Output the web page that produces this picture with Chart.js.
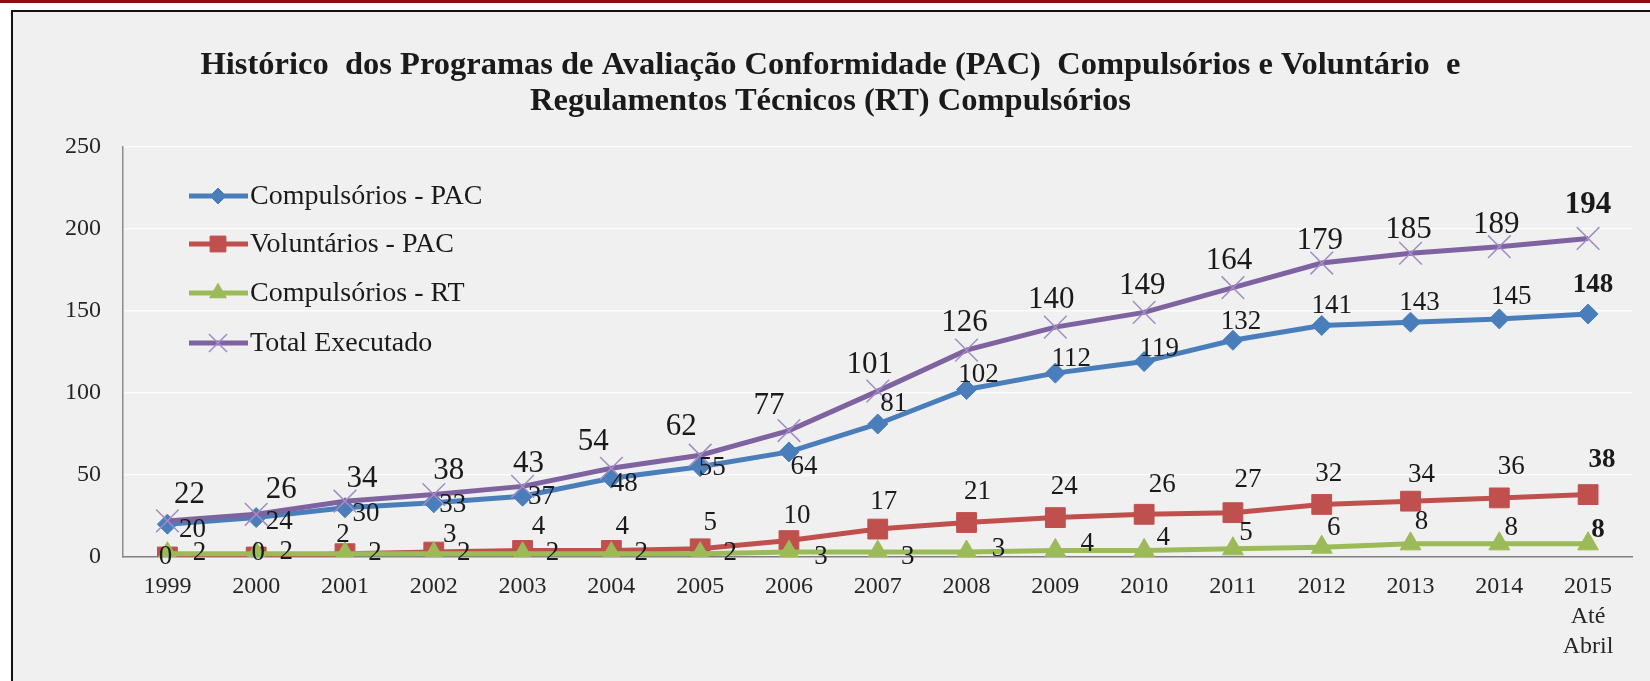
<!DOCTYPE html>
<html>
<head>
<meta charset="utf-8">
<script src="https://cdn.jsdelivr.net/npm/chart.js@4/dist/chart.umd.min.js"></script>
<style>
  body { margin: 0; background: #ffffff; }
  canvas { display: block; }
</style>
</head>
<body>
<canvas id="myChart" width="1650" height="681"></canvas>
<script>
// data
var years = ['1999', '2000', '2001', '2002', '2003', '2004', '2005', '2006', '2007', '2008',
  '2009', '2010', '2011', '2012', '2013', '2014', ['2015', 'Até', 'Abril']];
var compPAC = [20, 24, 30, 33, 37, 48, 55, 64, 81, 102, 112, 119, 132, 141, 143, 145, 148];
var volPAC = [0, 0, 2, 3, 4, 4, 5, 10, 17, 21, 24, 26, 27, 32, 34, 36, 38];
var compRT = [2, 2, 2, 2, 2, 2, 2, 3, 3, 3, 4, 4, 5, 6, 8, 8, 8];
var total = [22, 26, 34, 38, 43, 54, 62, 77, 101, 126, 140, 149, 164, 179, 185, 189, 194];
var yTicks = [0, 50, 100, 150, 200, 250];

var titleLines = ['Histórico  dos Programas de Avaliação Conformidade (PAC)  Compulsórios e Voluntário  e',
  'Regulamentos Técnicos (RT) Compulsórios'];

var serif = "'Liberation Serif', 'Times New Roman', serif";

// where each value label sits relative to its point (pixels)
var labelOffsets = {
  total: [[22,-26],[25,-24],[17,-22],[15,-24],[6,-23],[-18,-26],[-19,-28],[-20,-25],[-8,-26],
    [-2,-27],[-4,-27],[-2,-26],[-4,-27],[-2,-22],[-2,-23],[-3,-22],[0,-33]],
  compPAC: [[25,6],[23,4],[21,6],[19,2],[19,1],[13,6],[12,1],[15,15],[16,-20],[12,-15],
    [16,-14],[15,-13],[8,-18],[10,-20],[9,-19],[12,-22],[5,-29]],
  volPAC: [[-2,0],[2,-4],[-2,-19],[16,-17],[16,-24],[11,-24],[10,-26],[8,-25],[6,-27],[11,-31],
    [9,-31],[18,-29],[15,-33],[7,-31],[11,-26],[12,-31],[14,-35]],
  compRT: [[32,-1],[30,-2],[30,-1],[30,-1],[30,-1],[30,-1],[30,-1],[32,5],[30,5],[32,-3],
    [32,-7],[19,-13],[13,-16],[12,-19],[11,-22],[12,-16],[10,-14]]
};

var frame = {
  id: 'frame',
  beforeDraw: function(chart) {
    var ctx = chart.ctx;
    ctx.save();
    ctx.fillStyle = '#ffffff';
    ctx.fillRect(0, 0, chart.width, chart.height);
    ctx.fillStyle = '#f0f0f0';
    ctx.fillRect(12, 10, chart.width - 12, chart.height - 10);
    ctx.fillStyle = '#8a0f12';
    ctx.fillRect(0, 0, chart.width, 3);
    ctx.strokeStyle = '#111111';
    ctx.lineWidth = 2;
    ctx.beginPath();
    ctx.moveTo(12, chart.height);
    ctx.lineTo(12, 11);
    ctx.lineTo(chart.width, 11);
    ctx.stroke();
    ctx.restore();
  }
};

var valueLabels = {
  id: 'valueLabels',
  afterDatasetsDraw: function(chart) {
    var ctx = chart.ctx;
    ctx.save();
    ctx.textAlign = 'center';
    ctx.textBaseline = 'middle';
    ctx.fillStyle = '#1a1a1a';
    chart.data.datasets.forEach(function(ds, di) {
      var meta = chart.getDatasetMeta(di);
      var offs = labelOffsets[ds.key];
      meta.data.forEach(function(pt, i) {
        var last = i == ds.data.length - 1;
        var size = ds.key == 'total' ? 31 : 27;
        ctx.font = (last ? 'bold ' : '') + size + 'px ' + serif;
        ctx.fillText(ds.data[i], pt.x + offs[i][0], pt.y + offs[i][1]);
      });
    });
    ctx.restore();
  }
};

var lineLegend = {
  id: 'lineLegend',
  afterDraw: function(chart) {
    var ctx = chart.ctx;
    var rows = [196, 244, 293, 343];
    ctx.save();
    chart.data.datasets.forEach(function(ds, di) {
      var y = rows[di];
      ctx.strokeStyle = ds.borderColor;
      ctx.lineWidth = ds.borderWidth;
      ctx.beginPath();
      ctx.moveTo(189, y);
      ctx.lineTo(248, y);
      ctx.stroke();
      ctx.fillStyle = ds.pointBackgroundColor;
      ctx.strokeStyle = ds.pointBorderColor;
      ctx.lineWidth = ds.pointBorderWidth;
      Chart.helpers.drawPoint(ctx, {
        pointStyle: ds.pointStyle, radius: ds.pointRadius * 0.8, rotation: 0,
        borderWidth: ds.pointBorderWidth
      }, 218, y);
      ctx.fillStyle = '#1a1a1a';
      ctx.font = '28px ' + serif;
      ctx.textAlign = 'left';
      ctx.textBaseline = 'middle';
      ctx.fillText(ds.label, 250, y + 1);
    });
    ctx.restore();
  }
};

var ctx = document.getElementById('myChart');
var myChart = new Chart(ctx, {
  type: 'line',
  data: {
    labels: years,
    datasets: [{
      key: 'compPAC',
      label: 'Compulsórios - PAC',
      data: compPAC,
      borderColor: '#4a7ebb',
      borderWidth: 5,
      pointStyle: 'rectRot',
      pointRadius: 10,
      pointBackgroundColor: '#4a7ebb',
      pointBorderColor: '#4a7ebb',
      pointBorderWidth: 1,
      order: 4
    }, {
      key: 'volPAC',
      label: 'Voluntários - PAC',
      data: volPAC,
      borderColor: '#c0504d',
      borderWidth: 5,
      pointStyle: 'rect',
      pointRadius: 14,
      pointBackgroundColor: '#c0504d',
      pointBorderColor: '#c0504d',
      pointBorderWidth: 1,
      order: 3
    }, {
      key: 'compRT',
      label: 'Compulsórios - RT',
      data: compRT,
      borderColor: '#9bbb59',
      borderWidth: 5,
      pointStyle: 'triangle',
      pointRadius: 12,
      pointBackgroundColor: '#9bbb59',
      pointBorderColor: '#9bbb59',
      pointBorderWidth: 1,
      order: 2
    }, {
      key: 'total',
      label: 'Total Executado',
      data: total,
      borderColor: '#7f63a1',
      borderWidth: 5,
      pointStyle: 'crossRot',
      pointRadius: 16,
      pointBackgroundColor: '#a08cc6',
      pointBorderColor: '#a08cc6',
      pointBorderWidth: 1.5,
      order: 1
    }]
  },
  options: {
    responsive: false,
    animation: false,
    devicePixelRatio: 1,
    layout: { padding: { left: 18, right: 7, top: 0, bottom: 0 } },
    elements: { line: { tension: 0 } },
    plugins: {
      legend: { display: false },
      tooltip: { enabled: false },
      title: {
        display: true,
        text: titleLines,
        color: '#1a1a1a',
        font: { family: serif, size: 32.5, weight: 'bold', lineHeight: 1.1 },
        padding: { top: 48, bottom: 27 }
      }
    },
    scales: {
      x: {
        offset: true,
        grid: { display: false, drawTicks: false },
        border: { display: true, color: '#7f7f7f', width: 1.5 },
        ticks: {
          color: '#262626',
          padding: 15,
          maxRotation: 0,
          autoSkip: false,
          font: { family: serif, size: 24, lineHeight: 1.25 }
        },
        afterFit: function(scale) { scale.height = 124; }
      },
      y: {
        min: 0,
        max: 250,
        afterBuildTicks: function(scale) {
          scale.ticks = yTicks.map(function(v) { return { value: v }; });
        },
        grid: {
          drawTicks: false,
          lineWidth: 1.5,
          color: function(c) { return c.tick && c.tick.value == 0 ? 'rgba(0,0,0,0)' : '#fcfcfc'; }
        },
        border: { display: true, color: '#8c8c8c', width: 1.5 },
        ticks: {
          color: '#262626',
          padding: 22,
          font: { family: serif, size: 24 }
        },
        afterFit: function(scale) { scale.width = 105; }
      }
    }
  },
  plugins: [frame, valueLabels, lineLegend]
});
</script>
</body>
</html>
